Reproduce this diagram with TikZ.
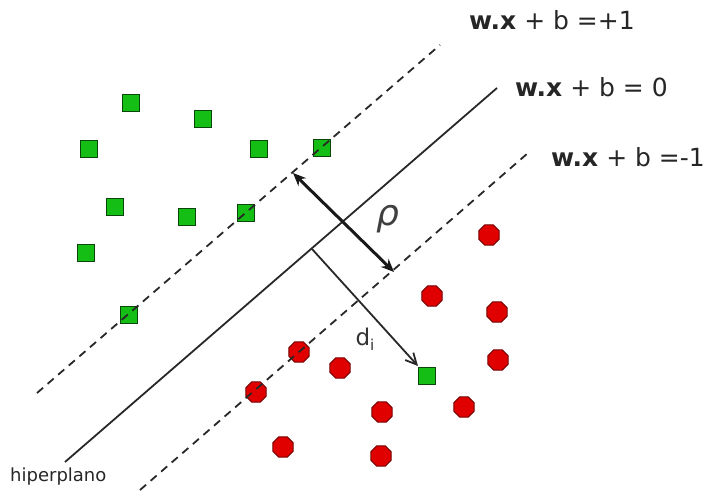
\documentclass[tikz,border=0pt]{standalone}
\usepackage{fontspec}
\setmainfont{DejaVu Sans}
\usetikzlibrary{arrows.meta,shapes.geometric}
\definecolor{gsq}{RGB}{20,190,20}
\definecolor{gsqd}{RGB}{10,70,10}
\definecolor{rdot}{RGB}{225,0,0}
\definecolor{rdotd}{RGB}{120,0,0}
\definecolor{ln}{RGB}{40,40,40}
\tikzset{
  sq/.style={draw=gsqd, fill=gsq, line width=1.5pt, minimum size=17pt, inner sep=0pt},
  rd/.style={draw=rdotd, fill=rdot, line width=1pt, regular polygon, regular polygon sides=8, minimum size=22pt, inner sep=0pt},
  margin/.style={draw=ln, line width=1.8pt, dash pattern=on 8pt off 6pt},
  hyper/.style={draw=ln, line width=1.8pt},
  eq/.style={font=\fontsize{25}{28}\selectfont, text=black!85, anchor=west, inner sep=0pt},
}
\begin{document}
\begin{tikzpicture}[x=1pt,y=-1pt]
\useasboundingbox (0,0) rectangle (705,492);
% green squares
\foreach \n/\x/\y in {g1/131/103, g2/203/119, g3/89/149, g4/259/149, g5/322/148, g6/115/207, g7/187/217, g8/246/213, g9/86/253, g10/129/315, g11/427/376}
  \node[sq] (\n) at (\x,\y) {};
% red dots
\foreach \n/\x/\y in {r1/489/235, r2/432/296, r3/497/312, r4/299/352, r5/340/368, r6/498/360, r7/256/392, r8/382/412, r9/464/407, r10/283/447, r11/381/456}
  \node[rd] (\n) at (\x,\y) {};
% lines
\coordinate (u1) at (37,393); \coordinate (u2) at (440,45);
\coordinate (h1) at (65,462); \coordinate (h2) at (497,88);
\coordinate (l1) at (140,490); \coordinate (l2) at (528,153);
\draw[margin] (u1) -- (u2);
\draw[hyper] (h1) -- (h2);
\draw[margin] (l1) -- (l2);
% margin arrow
\coordinate (pa) at (293,173);
\coordinate (pb) at (394,272);
\draw[line width=3pt, draw=black!90, {Stealth[length=13pt,width=11pt]}-{Stealth[length=13pt,width=11pt]}] (pa) -- (pb);
\node[font=\fontsize{36}{38}\selectfont\itshape, text=black!75] (rho) at (388,219) {ρ};
% distance arrow
\coordinate (ds) at (312,249);
\coordinate (de) at (418,366);
\draw[line width=1.8pt, draw=ln, -{Straight Barb[length=11pt,width=11pt]}] (ds) -- (de);
\node[font=\fontsize{23}{26}\selectfont, text=black!80] (di) at (365,339) {d\raisebox{-5pt}{\fontsize{15}{16}\selectfont i}};
% labels
\node[eq] (e1) at (469,20) {\textbf{w.x} + b =+1};
\node[eq] (e0) at (515,87) {\textbf{w.x} + b = 0};
\node[eq] (em) at (551,157) {\textbf{w.x} + b =-1};
\node[font=\fontsize{18}{20}\selectfont, text=black!85, anchor=west, inner sep=0pt] (hp) at (10,477) {hiperplano};
\end{tikzpicture}
\end{document}
